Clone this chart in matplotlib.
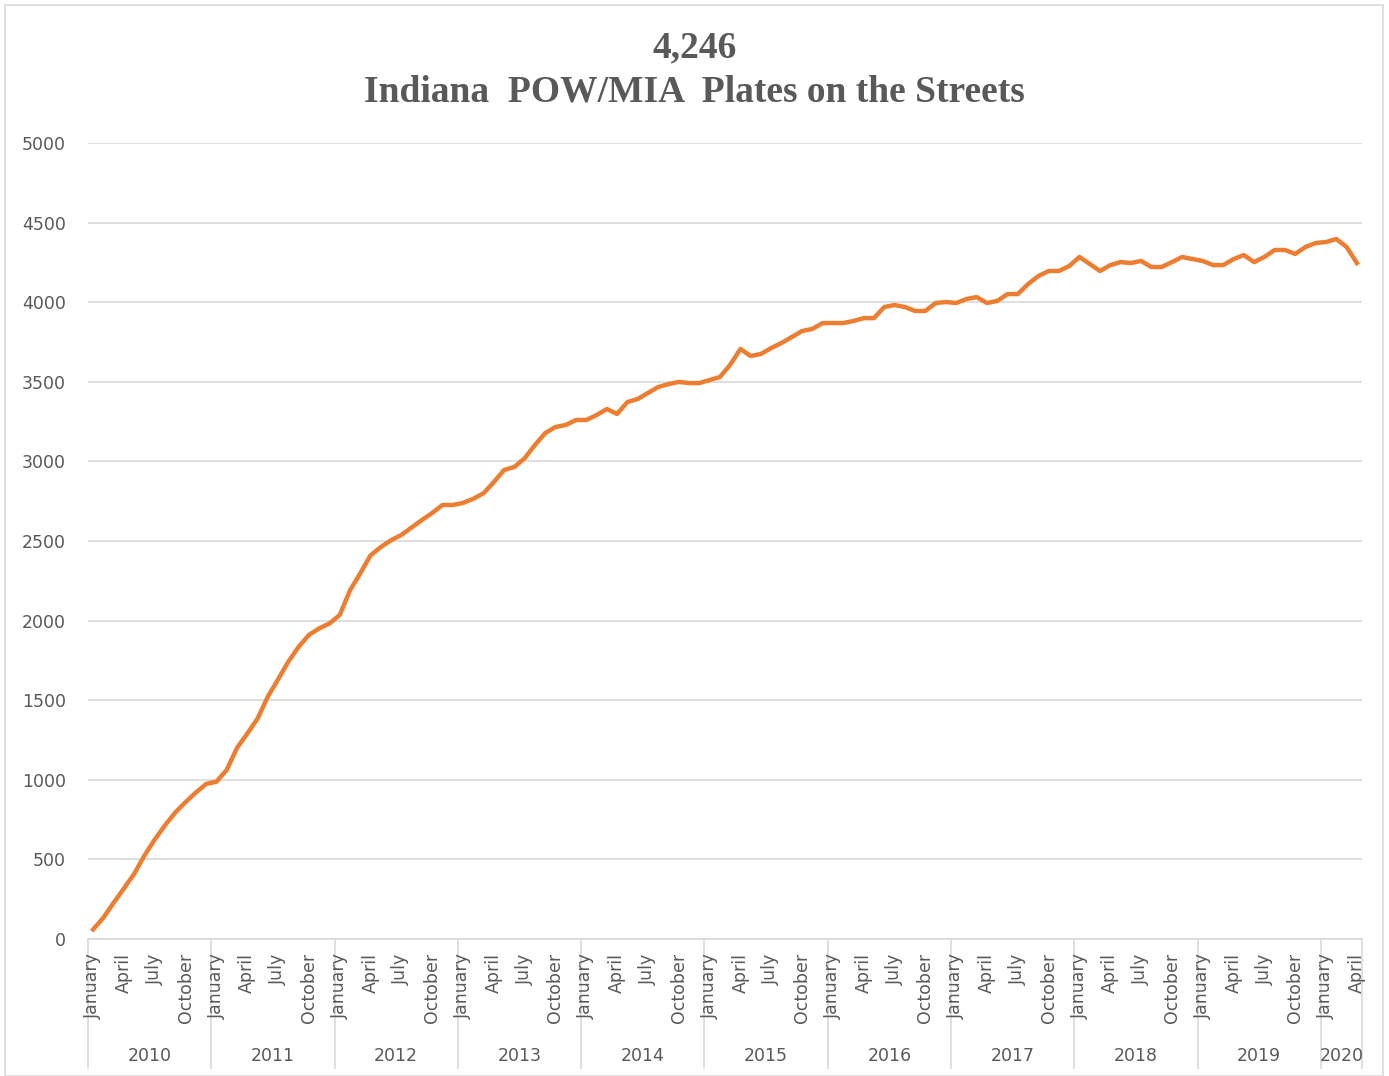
import matplotlib.pyplot as plt
import numpy as np
from matplotlib.patches import Rectangle

# data: monthly plate counts, Jan 2010 .. Apr 2020
years = [2010, 2011, 2012, 2013, 2014, 2015, 2016, 2017, 2018, 2019, 2020]
month_names = ["January", "February", "March", "April", "May", "June",
               "July", "August", "September", "October", "November", "December"]
shown_months = ["January", "April", "July", "October"]
plates = [
    60, 134, 228, 318, 410, 525, 625, 715, 795, 860, 920, 974,              # 2010
    988, 1062, 1200, 1290, 1384, 1522, 1631, 1742, 1835, 1910, 1951, 1982,  # 2011
    2035, 2190, 2297, 2410, 2462, 2505, 2538, 2585, 2632, 2676, 2726, 2726, # 2012
    2739, 2765, 2800, 2870, 2946, 2965, 3020, 3103, 3178, 3216, 3229, 3260, # 2013
    3260, 3291, 3329, 3298, 3373, 3392, 3430, 3467, 3486, 3499, 3492, 3492, # 2014
    3511, 3530, 3606, 3706, 3662, 3675, 3712, 3744, 3781, 3819, 3832, 3869, # 2015
    3869, 3869, 3882, 3900, 3900, 3970, 3982, 3970, 3945, 3945, 3995, 4001, # 2016
    3995, 4020, 4032, 3995, 4008, 4051, 4051, 4114, 4164, 4196, 4196, 4227, # 2017
    4284, 4240, 4196, 4233, 4252, 4246, 4259, 4221, 4221, 4252, 4284, 4271, # 2018
    4259, 4233, 4233, 4271, 4296, 4252, 4284, 4328, 4328, 4303, 4347, 4372, # 2019
    4378, 4397, 4347, 4246,                                                 # 2020
]
total = "4,246"

W, H = 1389, 1076
fig = plt.figure(figsize=(W / 100, H / 100), dpi=100)
ax = fig.add_axes([88 / W, 1 - 939 / H, (1362 - 88) / W, (939 - 143) / H])

x = np.arange(len(plates))
ax.plot(x, plates, color="#ED7D31", linewidth=3.2, solid_joinstyle="round")

grey = "#595959"
ax.set_xlim(-0.5, len(plates) - 0.5)
ax.set_ylim(0, 5000)
ax.set_yticks(np.arange(0, 5001, 500))
ax.yaxis.grid(True, color="#d9d9d9", linewidth=1.2)
ax.set_axisbelow(True)
for s in ["top", "right", "left"]:
    ax.spines[s].set_visible(False)
ax.spines["bottom"].set_color("#d9d9d9")
ax.spines["bottom"].set_linewidth(1.2)
ax.tick_params(axis="y", length=0, pad=16, labelsize=12.5, labelcolor=grey)
ax.tick_params(axis="x", length=0)
ax.set_xticks([])

# month labels and year groups
trans = ax.get_xaxis_transform()
for i in range(len(plates)):
    m = month_names[i % 12]
    if m in shown_months:
        ax.text(i, -0.018, m, transform=trans, rotation=90, ha="center",
                va="top", fontsize=12.5, color=grey)
bounds = [-0.5]
for k, yr in enumerate(years):
    start = k * 12 - 0.5
    end = min(start + 12, len(plates) - 0.5)
    bounds.append(end)
    ax.text((start + end) / 2, -0.147, str(yr), transform=trans, ha="center",
            va="center", fontsize=12.5, color=grey)
for b in bounds:
    ax.plot([b, b], [0, -0.162], transform=trans, color="#d9d9d9",
            linewidth=1.2, clip_on=False)

# title
fig.text(0.5, 1 - 48 / H, total, ha="center", va="center", fontsize=27,
         fontweight="bold", family="Liberation Serif", color=grey)
fig.text(0.5, 1 - 92 / H, "Indiana  POW/MIA  Plates on the Streets",
         ha="center", va="center", fontsize=27, fontweight="bold",
         family="Liberation Serif", color=grey)

# chart border
fig.patches.append(Rectangle((5 / W, 0.0), (1383 - 5) / W, 1 - 5 / H,
                             transform=fig.transFigure, fill=False,
                             edgecolor="#d9d9d9", linewidth=1.2))

fig.savefig("out.png", dpi=100)
